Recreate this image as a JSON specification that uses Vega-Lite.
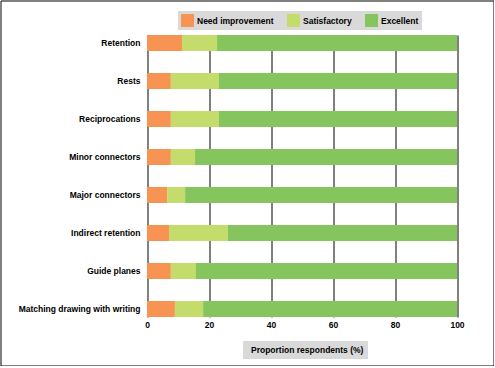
{
  "$schema": "https://vega.github.io/schema/vega-lite/v6.json",
  "width": 493,
  "height": 365,
  "autosize": {"type": "none"},
  "padding": {"left": 0.5, "top": 0.5, "right": 0, "bottom": 0},
  "background": "#ffffff",
  "config": {
    "font": "Liberation Sans",
    "view": {"stroke": "#000000", "strokeWidth": 1},
    "axis": {"labelFont": "Liberation Sans", "labelFontSize": 8.5, "labelFontWeight": "bold", "labelColor": "#000000"},
    "legend": {"labelFont": "Liberation Sans", "labelFontSize": 8.5, "labelFontWeight": "bold", "labelColor": "#000000"}
  },
  "data": {
    "values": [
      {"item": "Retention", "level": "Need improvement", "rank": 1, "pct": 11.3},
      {"item": "Retention", "level": "Satisfactory", "rank": 2, "pct": 11.3},
      {"item": "Retention", "level": "Excellent", "rank": 3, "pct": 77.4},
      {"item": "Rests", "level": "Need improvement", "rank": 1, "pct": 7.7},
      {"item": "Rests", "level": "Satisfactory", "rank": 2, "pct": 15.5},
      {"item": "Rests", "level": "Excellent", "rank": 3, "pct": 76.8},
      {"item": "Reciprocations", "level": "Need improvement", "rank": 1, "pct": 7.7},
      {"item": "Reciprocations", "level": "Satisfactory", "rank": 2, "pct": 15.5},
      {"item": "Reciprocations", "level": "Excellent", "rank": 3, "pct": 76.8},
      {"item": "Minor connectors", "level": "Need improvement", "rank": 1, "pct": 7.7},
      {"item": "Minor connectors", "level": "Satisfactory", "rank": 2, "pct": 7.8},
      {"item": "Minor connectors", "level": "Excellent", "rank": 3, "pct": 84.5},
      {"item": "Major connectors", "level": "Need improvement", "rank": 1, "pct": 6.5},
      {"item": "Major connectors", "level": "Satisfactory", "rank": 2, "pct": 5.8},
      {"item": "Major connectors", "level": "Excellent", "rank": 3, "pct": 87.7},
      {"item": "Indirect retention", "level": "Need improvement", "rank": 1, "pct": 7.1},
      {"item": "Indirect retention", "level": "Satisfactory", "rank": 2, "pct": 19.0},
      {"item": "Indirect retention", "level": "Excellent", "rank": 3, "pct": 73.9},
      {"item": "Guide planes", "level": "Need improvement", "rank": 1, "pct": 7.7},
      {"item": "Guide planes", "level": "Satisfactory", "rank": 2, "pct": 8.1},
      {"item": "Guide planes", "level": "Excellent", "rank": 3, "pct": 84.2},
      {"item": "Matching drawing with writing", "level": "Need improvement", "rank": 1, "pct": 9.0},
      {"item": "Matching drawing with writing", "level": "Satisfactory", "rank": 2, "pct": 9.1},
      {"item": "Matching drawing with writing", "level": "Excellent", "rank": 3, "pct": 81.9}
    ]
  },
  "layer": [
    {
      "mark": {"type": "bar", "opacity": 0},
      "encoding": {
        "x": {
          "field": "pct", "type": "quantitative", "stack": "zero",
          "scale": {"domain": [0, 100], "range": [146.5, 456.5], "nice": false, "zero": true},
          "axis": {"orient": "top", "grid": true, "gridColor": "#000000", "gridOpacity": 1, "gridWidth": 1, "labels": false, "ticks": false, "domain": false, "title": null, "values": [0, 20, 40, 60, 80, 100]}
        },
        "y": {
          "field": "item", "type": "nominal",
          "sort": ["Retention", "Rests", "Reciprocations", "Minor connectors", "Major connectors", "Indirect retention", "Guide planes", "Matching drawing with writing"],
          "scale": {"range": [34.5, 316.5], "paddingInner": 0.579, "paddingOuter": 0},
          "axis": {"orient": "left", "offset": -146.5, "domain": false, "ticks": false, "grid": false, "labelPadding": 7, "labelLimit": 200, "title": null}
        },
        "order": {"field": "rank"}
      }
    },
    {
      "mark": {"type": "bar"},
      "encoding": {
        "x": {
          "field": "pct", "type": "quantitative", "stack": "zero",
          "scale": {"domain": [0, 100], "range": [146.5, 456.5], "nice": false, "zero": true},
          "axis": {"orient": "bottom", "offset": -48.5, "grid": false, "domain": false, "ticks": false, "labelPadding": 3, "labelFlush": false, "title": null, "values": [0, 20, 40, 60, 80, 100]}
        },
        "y": {
          "field": "item", "type": "nominal",
          "sort": ["Retention", "Rests", "Reciprocations", "Minor connectors", "Major connectors", "Indirect retention", "Guide planes", "Matching drawing with writing"],
          "scale": {"range": [34.5, 316.5], "paddingInner": 0.579, "paddingOuter": 0},
          "axis": {"orient": "left", "offset": -146.5, "domain": false, "ticks": false, "grid": false, "labelPadding": 7, "labelLimit": 200, "title": null}
        },
        "color": {
          "field": "level", "type": "nominal",
          "scale": {"domain": ["Need improvement", "Satisfactory", "Excellent"], "range": ["#f79454", "#c3dc6c", "#86c45d"]},
          "legend": {
            "orient": "none", "legendX": 177.5, "legendY": 10.5, "direction": "horizontal", "title": null,
            "fillColor": "#d9d9d9", "padding": 3, "symbolType": "square", "symbolSize": 169, "symbolStrokeWidth": 0,
            "symbolOpacity": 1, "labelOffset": 3, "columnPadding": 13
          }
        },
        "order": {"field": "rank"}
      }
    },
    {
      "data": {"values": [{"caption": "Proportion respondents (%)"}]},
      "mark": {"type": "point", "opacity": 0},
      "encoding": {
        "shape": {
          "field": "caption", "type": "nominal",
          "legend": {
            "orient": "none", "legendX": 242.5, "legendY": 340.5, "title": null,
            "fillColor": "#d9d9d9", "padding": 4.5, "symbolSize": 1, "symbolOpacity": 0, "symbolStrokeWidth": 0,
            "labelOffset": -5
          }
        }
      }
    }
  ],
  "resolve": {"axis": {"x": "independent"}}
}
